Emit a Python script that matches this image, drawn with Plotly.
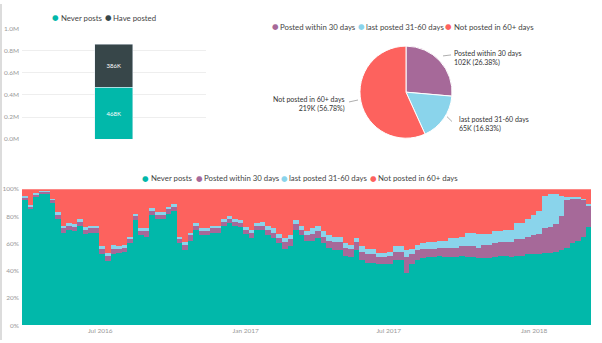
import plotly.graph_objects as go
import pandas as pd

# ---------------- data ----------------
bar_categories = ["All users"]
never_posts_total = [468000]
have_posted_total = [385920]

pie_labels = ["Posted within 30 days", "last posted 31-60 days", "Not posted in 60+ days"]
pie_values = [101820, 64960, 219140]

week_start = "2016-03-24"
never_pct = [92,85,94,96,97,90,78,68,70,69,
             73,67,68,68,52,47,52,53,54,60,
             77,66,65,81,78,78,82,84,60,55,
             62,70,66,66,68,68,73,75,73,72,
             67,64,70,70,66,64,60,56,58,70,
             66,62,62,64,60,57,55,55,51,50,
             55,48,46,46,45,45,45,48,48,38,
             45,48,49,50,50,51,50,50,50,51,
             50,50,49,49,49,50,51,51,50,51,
             51,52,52,52,53,53,54,55,57,60,
             62,65,72]
posted30_pct = [2,2,2,2,1,2,3,3,3,3,
                3,3,3,3,4,4,4,3,3,3,
                3,3,4,3,3,3,3,3,3,4,
                4,3,3,3,3,3,3,3,3,3,
                3,4,3,3,4,4,4,5,5,4,
                4,4,5,5,5,5,6,6,6,6,
                6,6,6,6,5,5,6,6,6,12,
                7,7,7,6,6,6,7,7,7,7,
                8,8,8,10,10,10,10,10,11,12,
                12,13,14,15,18,19,20,25,35,33,
                31,27,16]
posted3160_pct = [1,1,1,1,1,1,2,2,2,2,
                  2,2,2,2,2,2,3,2,2,2,
                  2,2,2,2,2,2,2,2,2,2,
                  2,2,2,2,2,2,2,2,2,2,
                  2,2,2,3,3,3,3,3,3,3,
                  3,3,4,4,4,4,4,4,3,3,
                  3,4,4,4,3,3,3,4,4,5,
                  4,4,4,5,5,5,5,7,7,7,
                  10,10,10,8,8,9,8,9,9,12,
                  12,13,15,17,24,24,22,15,2,1,
                  1,1,1]
not60_pct = [100 - a - b - c for a, b, c in zip(never_pct, posted30_pct, posted3160_pct)]

y_ticks_top = [0, 200000, 400000, 600000, 800000, 1000000]
y_ticklabels_top = ["0.0M", "0.2M", "0.4M", "0.6M", "0.8M", "1.0M"]
y_ticks_bottom = [0, 20, 40, 60, 80, 100]
y_ticklabels_bottom = ["0%", "20%", "40%", "60%", "80%", "100%"]
x_ticks_bottom = ["2016-07-01", "2017-01-01", "2017-07-01", "2018-01-01"]

# ---------------- style ----------------
TEAL = "#01B8AA"
DARK = "#374649"
PURPLE = "#A66999"
LBLUE = "#8AD4EB"
RED = "#FD625E"
FONT = "Lato"
W, H = 602, 343

def px(x):
    return x / W

def py(y):
    return 1 - y / H

dates = pd.date_range(week_start, periods=len(never_pct), freq="7D") + pd.Timedelta(hours=84)
week_ms = 7 * 24 * 3600 * 1000

fig = go.Figure()

# top-left stacked bar
fig.add_trace(go.Bar(x=bar_categories, y=never_posts_total, marker_color=TEAL, width=0.21,
                     text=[f"{v/1000:.0f}K" for v in never_posts_total], textposition="inside",
                     insidetextanchor="middle", textangle=0,
                     textfont=dict(size=6, color="white", family=FONT),
                     xaxis="x", yaxis="y", showlegend=False))
fig.add_trace(go.Bar(x=bar_categories, y=have_posted_total, marker_color=DARK, width=0.21,
                     text=[f"{v/1000:.0f}K" for v in have_posted_total], textposition="inside",
                     insidetextanchor="middle", textangle=0,
                     textfont=dict(size=6, color="white", family=FONT),
                     xaxis="x", yaxis="y", showlegend=False))

# pie
fig.add_trace(go.Pie(labels=pie_labels, values=pie_values, sort=False, direction="clockwise",
                     rotation=0, marker=dict(colors=[PURPLE, LBLUE, RED], line=dict(color="white", width=1)),
                     textinfo="none", showlegend=False,
                     domain=dict(x=[px(359), px(453)], y=[py(137), py(43)])))

# bottom 100% stacked bars
for vals, col, name in [(never_pct, TEAL, "Never posts"), (posted30_pct, PURPLE, "Posted within 30 days"),
                        (posted3160_pct, LBLUE, "last posted 31-60 days"), (not60_pct, RED, "Not posted in 60+ days")]:
    fig.add_trace(go.Bar(x=dates, y=vals, width=week_ms, marker=dict(color=col, line=dict(width=0)),
                         name=name, xaxis="x2", yaxis="y2", showlegend=False))

annotations = []
shapes = []

def legend_item(xdot, y, color, text):
    annotations.append(dict(x=px(xdot), y=py(y), xref="paper", yref="paper", text="●",
                            showarrow=False, xanchor="center", yanchor="middle",
                            font=dict(size=7.5, color=color, family="DejaVu Sans")))
    annotations.append(dict(x=px(xdot + 3), y=py(y), xref="paper", yref="paper", text=text,
                            showarrow=False, xanchor="left", yanchor="middle",
                            font=dict(size=7.8, color="#444", family=FONT)))

legend_item(55.5, 14, TEAL, "Never posts")
legend_item(108, 14, DARK, "Have posted")
legend_item(275, 23, PURPLE, pie_labels[0])
legend_item(361, 23, LBLUE, pie_labels[1])
legend_item(449, 23, RED, pie_labels[2])
legend_item(145.5, 178, TEAL, "Never posts")
legend_item(199, 178, PURPLE, "Posted within 30 days")
legend_item(284, 178, LBLUE, "last posted 31-60 days")
legend_item(373, 178, RED, "Not posted in 60+ days")

# pie data labels
total = sum(pie_values)
lab = [f"{l}<br>{v/1000:.0f}K ({v/total*100:.2f}%)" for l, v in zip(pie_labels, pie_values)]
annotations.append(dict(x=px(452), y=py(55.5), xref="paper", yref="paper", text=lab[0], showarrow=False,
                        xanchor="left", yanchor="middle", align="left",
                        font=dict(size=7, color="#333", family=FONT)))
annotations.append(dict(x=px(457), y=py(122), xref="paper", yref="paper", text=lab[1], showarrow=False,
                        xanchor="left", yanchor="middle", align="left",
                        font=dict(size=7, color="#333", family=FONT)))
annotations.append(dict(x=px(347), y=py(102), xref="paper", yref="paper", text=lab[2], showarrow=False,
                        xanchor="right", yanchor="middle", align="right",
                        font=dict(size=7, color="#333", family=FONT)))
for (x0, y0, x1, y1) in [(443, 53, 451, 52), (447, 115, 452, 120), (349, 100, 358, 98)]:
    shapes.append(dict(type="line", xref="paper", yref="paper", x0=px(x0), y0=py(y0), x1=px(x1), y1=py(y1),
                       line=dict(color="#999", width=0.8)))

# left grey border
shapes.append(dict(type="rect", xref="paper", yref="paper", x0=0, x1=px(2), y0=0, y1=1,
                   fillcolor="#dcdcdc", line=dict(width=0), layer="above"))

tickfont = dict(size=6.5, color="#999", family=FONT)

fig.update_layout(
    width=W, height=H, autosize=False,
    margin=dict(l=0, r=0, t=0, b=0),
    paper_bgcolor="white", plot_bgcolor="white",
    barmode="stack", bargap=0,
    font=dict(family=FONT),
    xaxis=dict(domain=[px(22), px(206)], type="category", range=[-0.5, 0.5], showticklabels=False,
               showgrid=False, zeroline=False, showline=False, fixedrange=True),
    yaxis=dict(domain=[py(138), py(25)], range=[0, 1000000], tickvals=y_ticks_top, ticktext=y_ticklabels_top,
               showgrid=True, gridcolor="#eeeeee", gridwidth=1, zeroline=False, showline=False,
               tickfont=tickfont, ticklabelstandoff=2),
    xaxis2=dict(domain=[px(22), px(591)], type="date", range=["2016-03-24", "2018-03-14"],
                tickvals=x_ticks_bottom, tickformat="%b %Y", tickfont=tickfont, showgrid=False,
                zeroline=False, showline=False, ticks="", anchor="y2"),
    yaxis2=dict(domain=[py(328), py(189)], range=[0, 100], tickvals=y_ticks_bottom,
                ticktext=y_ticklabels_bottom, tickfont=tickfont, showgrid=False, zeroline=False,
                showline=False, anchor="x2", ticklabelstandoff=2),
    annotations=annotations,
    shapes=shapes,
)

fig.write_html("out.html")
